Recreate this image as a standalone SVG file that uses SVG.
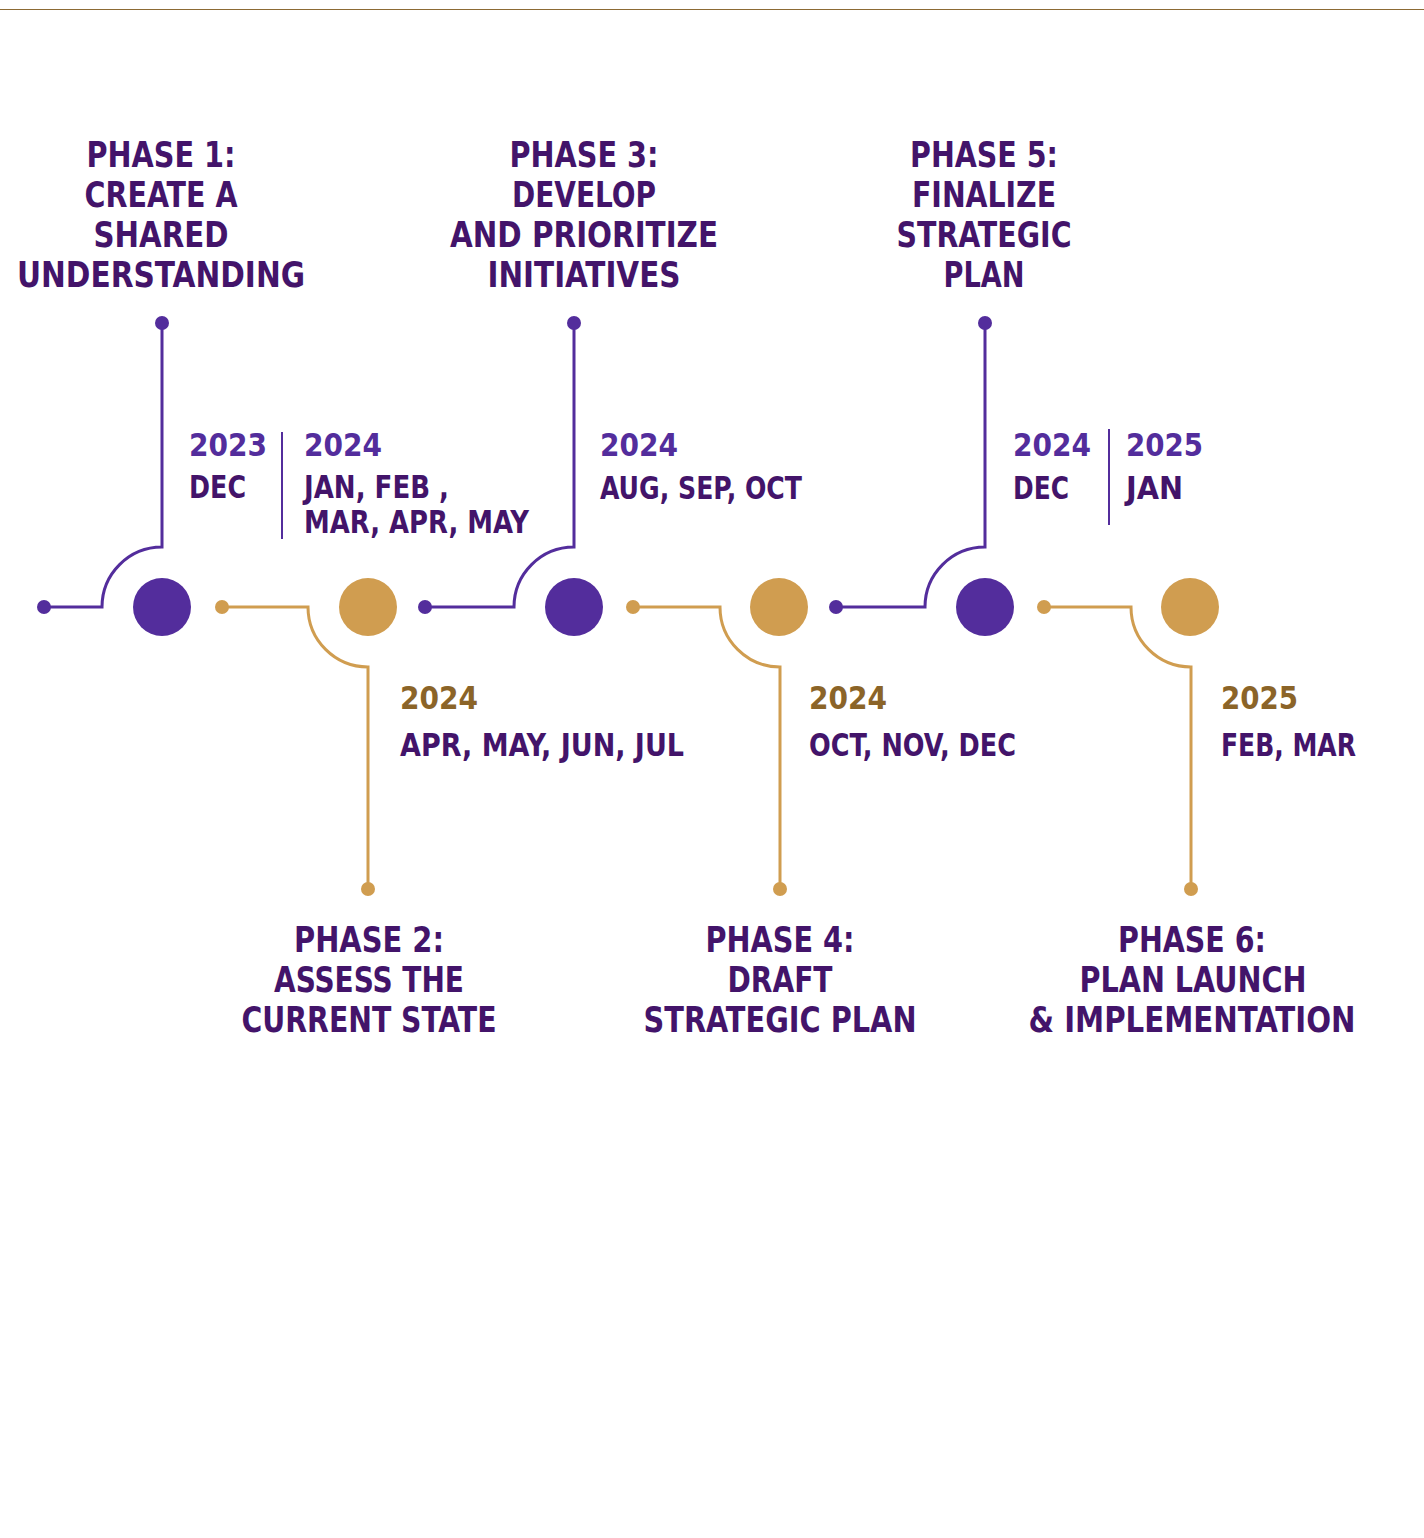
<svg xmlns="http://www.w3.org/2000/svg" width="1424" height="1538" viewBox="0 0 1424 1538">
<style>
text{font-family:"Liberation Sans Narrow","DejaVu Sans Condensed","Liberation Sans",sans-serif;font-stretch:condensed;font-weight:700}
.h{font-size:36px;fill:#43146a;text-anchor:middle}
.y{font-size:32px}
.yp{fill:#532d9c}
.yg{fill:#8b6428}
.m{font-size:32px;fill:#43146a}
.lp{fill:none;stroke:#532d9c;stroke-width:3}
.lg{fill:none;stroke:#d09d50;stroke-width:3}
.sep{stroke:#532d9c;stroke-width:2}
.cp{fill:#532d9c}
.cg{fill:#d09d50}
</style>
<rect width="1424" height="1538" fill="#fff"/>
<line x1="0" y1="9.5" x2="1424" y2="9.5" stroke="#8c6a34" stroke-width="1"/>
<g id="connectors">
<path class="lp" d="M162 323 V547 A60 60 0 0 0 102 607 H44"/>
<circle class="cp" cx="162" cy="323" r="7"/><circle class="cp" cx="44" cy="607" r="7"/>
<path class="lg" d="M222 607 H308 A60 60 0 0 0 368 667 V889"/>
<circle class="cg" cx="222" cy="607" r="7"/><circle class="cg" cx="368" cy="889" r="7"/>
<path class="lp" d="M574 323 V547 A60 60 0 0 0 514 607 H425"/>
<circle class="cp" cx="574" cy="323" r="7"/><circle class="cp" cx="425" cy="607" r="7"/>
<path class="lg" d="M633 607 H720 A60 60 0 0 0 780 667 V889"/>
<circle class="cg" cx="633" cy="607" r="7"/><circle class="cg" cx="780" cy="889" r="7"/>
<path class="lp" d="M985 323 V547 A60 60 0 0 0 925 607 H836"/>
<circle class="cp" cx="985" cy="323" r="7"/><circle class="cp" cx="836" cy="607" r="7"/>
<path class="lg" d="M1044 607 H1131 A60 60 0 0 0 1191 667 V889"/>
<circle class="cg" cx="1044" cy="607" r="7"/><circle class="cg" cx="1191" cy="889" r="7"/>
<line class="sep" x1="282" y1="432" x2="282" y2="539"/>
<line class="sep" x1="1109" y1="429" x2="1109" y2="525"/>
</g>
<g id="phase1">
<circle class="cp" cx="162" cy="607" r="29"/>
<text class="h" x="161" y="167" textLength="149" lengthAdjust="spacingAndGlyphs">PHASE 1:</text>
<text class="h" x="161" y="207" textLength="153" lengthAdjust="spacingAndGlyphs">CREATE A</text>
<text class="h" x="161" y="247" textLength="135" lengthAdjust="spacingAndGlyphs">SHARED</text>
<text class="h" x="161" y="287" textLength="288" lengthAdjust="spacingAndGlyphs">UNDERSTANDING</text>
<text class="y yp" x="189" y="456" textLength="78" lengthAdjust="spacingAndGlyphs">2023</text>
<text class="m" x="189" y="498" textLength="57" lengthAdjust="spacingAndGlyphs">DEC</text>
<text class="y yp" x="304" y="456" textLength="78" lengthAdjust="spacingAndGlyphs">2024</text>
<text class="m" x="304" y="498" textLength="145" lengthAdjust="spacingAndGlyphs">JAN, FEB ,</text>
<text class="m" x="304" y="533" textLength="225" lengthAdjust="spacingAndGlyphs">MAR, APR, MAY</text>
</g>
<g id="phase2">
<circle class="cg" cx="368" cy="607" r="29"/>
<text class="h" x="369" y="952" textLength="150" lengthAdjust="spacingAndGlyphs">PHASE 2:</text>
<text class="h" x="369" y="992" textLength="190" lengthAdjust="spacingAndGlyphs">ASSESS THE</text>
<text class="h" x="369" y="1032" textLength="255" lengthAdjust="spacingAndGlyphs">CURRENT STATE</text>
<text class="y yg" x="400" y="709" textLength="78" lengthAdjust="spacingAndGlyphs">2024</text>
<text class="m" x="400" y="756" textLength="284" lengthAdjust="spacingAndGlyphs">APR, MAY, JUN, JUL</text>
</g>
<g id="phase3">
<circle class="cp" cx="574" cy="607" r="29"/>
<text class="h" x="584" y="167" textLength="149" lengthAdjust="spacingAndGlyphs">PHASE 3:</text>
<text class="h" x="584" y="207" textLength="144" lengthAdjust="spacingAndGlyphs">DEVELOP</text>
<text class="h" x="584" y="247" textLength="268" lengthAdjust="spacingAndGlyphs">AND PRIORITIZE</text>
<text class="h" x="584" y="287" textLength="193" lengthAdjust="spacingAndGlyphs">INITIATIVES</text>
<text class="y yp" x="600" y="456" textLength="78" lengthAdjust="spacingAndGlyphs">2024</text>
<text class="m" x="600" y="499" textLength="202" lengthAdjust="spacingAndGlyphs">AUG, SEP, OCT</text>
</g>
<g id="phase4">
<circle class="cg" cx="779" cy="607" r="29"/>
<text class="h" x="780" y="952" textLength="149" lengthAdjust="spacingAndGlyphs">PHASE 4:</text>
<text class="h" x="780" y="992" textLength="105" lengthAdjust="spacingAndGlyphs">DRAFT</text>
<text class="h" x="780" y="1032" textLength="273" lengthAdjust="spacingAndGlyphs">STRATEGIC PLAN</text>
<text class="y yg" x="809" y="709" textLength="78" lengthAdjust="spacingAndGlyphs">2024</text>
<text class="m" x="809" y="756" textLength="207" lengthAdjust="spacingAndGlyphs">OCT, NOV, DEC</text>
</g>
<g id="phase5">
<circle class="cp" cx="985" cy="607" r="29"/>
<text class="h" x="984" y="167" textLength="148" lengthAdjust="spacingAndGlyphs">PHASE 5:</text>
<text class="h" x="984" y="207" textLength="144" lengthAdjust="spacingAndGlyphs">FINALIZE</text>
<text class="h" x="984" y="247" textLength="175" lengthAdjust="spacingAndGlyphs">STRATEGIC</text>
<text class="h" x="984" y="287" textLength="81" lengthAdjust="spacingAndGlyphs">PLAN</text>
<text class="y yp" x="1013" y="456" textLength="78" lengthAdjust="spacingAndGlyphs">2024</text>
<text class="m" x="1013" y="499" textLength="56" lengthAdjust="spacingAndGlyphs">DEC</text>
<text class="y yp" x="1126" y="456" textLength="77" lengthAdjust="spacingAndGlyphs">2025</text>
<text class="m" x="1126" y="499" textLength="57" lengthAdjust="spacingAndGlyphs">JAN</text>
</g>
<g id="phase6">
<circle class="cg" cx="1190" cy="607" r="29"/>
<text class="h" x="1192" y="952" textLength="148" lengthAdjust="spacingAndGlyphs">PHASE 6:</text>
<text class="h" x="1193" y="992" textLength="227" lengthAdjust="spacingAndGlyphs">PLAN LAUNCH</text>
<text class="h" x="1192" y="1032" textLength="327" lengthAdjust="spacingAndGlyphs">&amp; IMPLEMENTATION</text>
<text class="y yg" x="1221" y="709" textLength="77" lengthAdjust="spacingAndGlyphs">2025</text>
<text class="m" x="1221" y="756" textLength="135" lengthAdjust="spacingAndGlyphs">FEB, MAR</text>
</g>
</svg>
